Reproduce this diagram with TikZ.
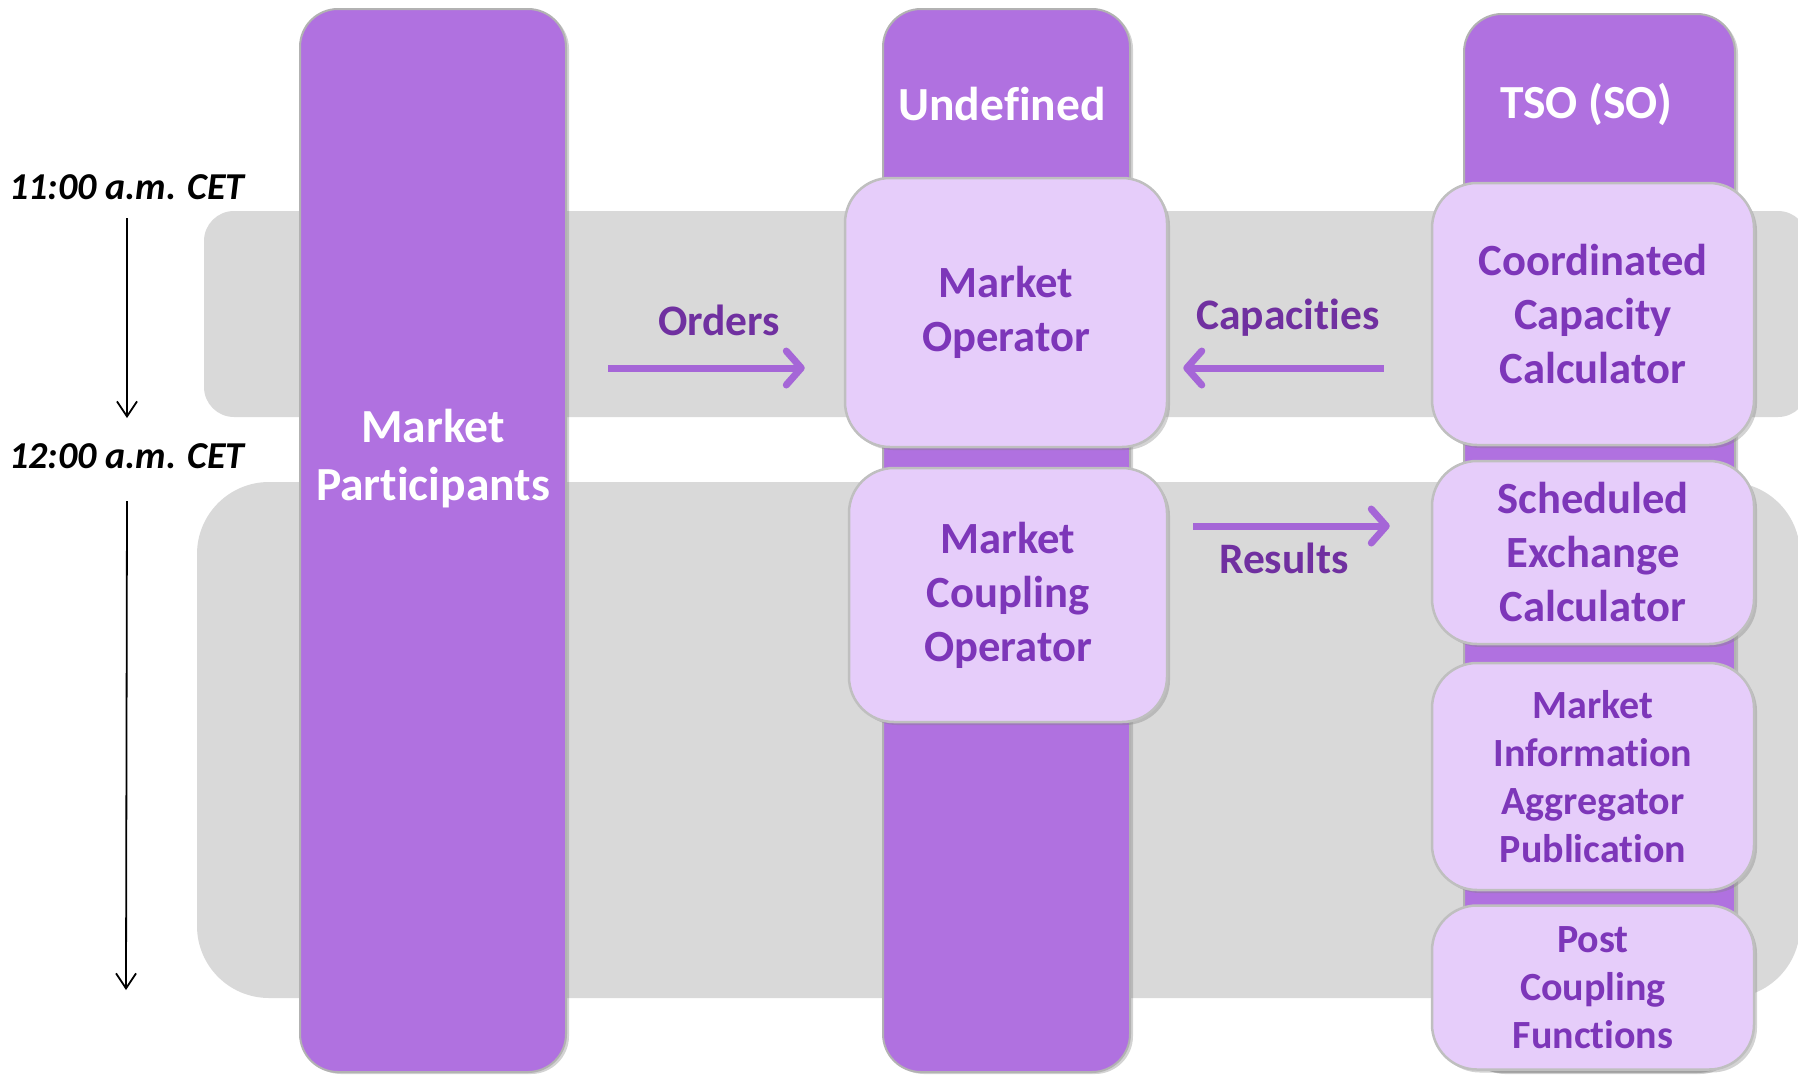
\documentclass[tikz,border=0pt]{standalone}
\usepackage{fontspec}
\setmainfont[Ligatures={NoCommon,NoRequired,NoContextual}]{Carlito}
\usetikzlibrary{arrows.meta,shadows}
\definecolor{colpurple}{HTML}{B071E0}
\definecolor{boxlilac}{HTML}{E6CDFA}
\definecolor{boxtext}{HTML}{7D36B9}
\definecolor{flowpurple}{HTML}{A566D7}
\definecolor{labelpurple}{HTML}{7030A0}
\definecolor{bandgray}{HTML}{D9D9D9}

\begin{document}
\begin{tikzpicture}[x=1pt,y=-1pt,
  band/.style={fill=bandgray,rounded corners=#1},
  column/.style={fill=colpurple,draw=black!30,line width=2pt,rounded corners=38pt,
    inner sep=0pt,drop shadow={shadow xshift=3pt,shadow yshift=-2pt,opacity=.35}},
  coltext/.style={text=white,align=center,font=\fontsize{47.5}{58}\selectfont\bfseries},
  subbox/.style={fill=boxlilac,draw=black!25,line width=2.5pt,rounded corners=45pt,
    minimum width=322pt,inner sep=0pt,text=boxtext,align=center,
    font=\fontsize{44.6}{54}\selectfont\bfseries,
    drop shadow={shadow xshift=3pt,shadow yshift=-3pt,opacity=.35}},
  subboxsm/.style={subbox,font=\fontsize{40}{48}\selectfont\bfseries},
  flowlabel/.style={text=labelpurple,font=\fontsize{43.5}{52}\selectfont\bfseries},
  flow/.style={draw=flowpurple,line width=7pt,
    -{Straight Barb[length=15pt,width=34pt,line cap=round,line join=round]}},
  timelabel/.style={font=\fontsize{38}{46}\selectfont\bfseries\itshape},
  timeline/.style={draw=black,line width=1.8pt,-{Straight Barb[length=15pt,width=20pt]}}]
\useasboundingbox (0,0) rectangle (1798,1074);
\clip (0,0) rectangle (1798,1074);

\path[band=30pt] (204,211) rectangle (1808,417);
\path[band=72pt] (197,482) rectangle (1800,998);

\node[column,minimum width=266pt,minimum height=1063pt] (mp) at (433,540.5) {};
\node[column,minimum width=247pt,minimum height=1063pt] (ud) at (1006.5,540.5) {};
\node[column,minimum width=271pt,minimum height=1058pt] (tso) at (1599.5,543) {};
\node[coltext] (mptext) at (433,459) {Market\\Participants};
\node[coltext] (udtext) at (1002,104) {Undefined};
\node[coltext] (tsotext) at (1586,104) {TSO (SO)};

\node[subbox,minimum height=269pt] (mo) at (1006,312.5) {Market\\Operator};
\node[subbox,minimum width=318pt,minimum height=254pt] (mco) at (1008,595) {Market\\Coupling\\Operator};
\node[subbox,minimum height=262pt] (ccc) at (1593,314) {Coordinated\\Capacity\\Calculator};
\node[subbox,minimum height=183pt] (sec) at (1593,552.5) {Scheduled\\Exchange\\Calculator};
\node[subboxsm,minimum height=227pt] (miap) at (1593,776.5) {Market\\Information\\Aggregator\\Publication};
\node[subboxsm,minimum height=164pt] (pcf) at (1593,987.5) {Post\\Coupling\\Functions};

\coordinate (ordend) at ([yshift=-55.5pt]mo.west);
\coordinate (capend) at ([yshift=-55.5pt]mo.east);
\coordinate (resstart) at ([yshift=69pt]mco.east);
\draw[flow,shorten <=41pt,shorten >=39pt] (mp.east |- ordend) -- (ordend);
\draw[flow,shorten <=47pt,shorten >=15pt] (ccc.west |- capend) -- (capend);
\draw[flow,shorten <=25pt,shorten >=41pt] (resstart) -- (sec.west |- resstart);
\node[flowlabel] (orders) at (719,320) {Orders};
\node[flowlabel] (caps) at (1288,318) {Capacities};
\node[flowlabel] (results) at (1284,558) {Results};

\node[timelabel] (t11) at (127,187) {11:00 a.m. CET};
\node[timelabel] (t12) at (127,456) {12:00 a.m. CET};
\coordinate (tend) at (126,990);
\draw[timeline] ([yshift=-31pt]t11.center) -- ([yshift=38pt]t12.center);
\draw[timeline] ([yshift=-45pt]t12.center) -- (tend);
\end{tikzpicture}
\end{document}
